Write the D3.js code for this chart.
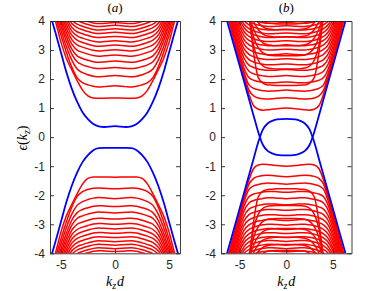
<!DOCTYPE html>
<html><head><meta charset="utf-8">
<script src="https://cdn.jsdelivr.net/npm/d3@7"></script>
<style>body{margin:0;background:#fff}svg{display:block}</style>
</head><body>
<script>
// ---------- data ----------
const kA = [-6,-5.5,-5,-4.5,-4,-3.5,-3,-2.5,-2,-1.5,-1,0,1,1.5,2,2.5,3,3.5,4,4.5,5,5.5,6];
const kB = [-7,-6.5,-6,-5.5,-5,-4.5,-4,-3.5,-3,-2.5,-2,-1.5,-1,0,1,1.5,2,2.5,3,3.5,4,4.5,5,5.5,6,6.5,7];
const yTicks = [-4,-3,-2,-1,0,1,2,3,4];
const xTicks = [-5,0,5];
const panelTitles = ["a","b"];

const blueA = [
 [4.25,3.6,2.93,2.25,1.68,1.22,0.86,0.62,0.45,0.37,0.35,0.38,0.35,0.37,0.45,0.62,0.86,1.22,1.68,2.25,2.93,3.6,4.25],
 [-4.25,-3.6,-2.93,-2.25,-1.68,-1.22,-0.86,-0.62,-0.45,-0.38,-0.37,-0.37,-0.37,-0.38,-0.45,-0.62,-0.86,-1.22,-1.68,-2.25,-2.93,-3.6,-4.25]
];
const redAUpper = [
 [4.7,4.0,3.28,2.72,2.32,1.95,1.62,1.42,1.35,1.34,1.34,1.35,1.34,1.34,1.35,1.42,1.62,1.95,2.32,2.72,3.28,4.0,4.7],
 [4.8,4.15,3.52,2.93,2.42,2.05,1.88,1.80,1.75,1.73,1.74,1.77,1.74,1.73,1.75,1.80,1.88,2.05,2.42,2.93,3.52,4.15,4.8],
 [5.0,4.33,3.70,3.13,2.66,2.35,2.22,2.15,2.10,2.08,2.09,2.12,2.09,2.08,2.10,2.15,2.22,2.35,2.66,3.13,3.70,4.33,5.0],
 [5.1,4.48,3.87,3.32,2.87,2.60,2.49,2.43,2.38,2.36,2.37,2.40,2.37,2.36,2.38,2.43,2.49,2.60,2.87,3.32,3.87,4.48,5.1],
 [5.2,4.6,4.01,3.47,3.04,2.80,2.71,2.65,2.60,2.58,2.59,2.62,2.59,2.58,2.60,2.65,2.71,2.80,3.04,3.47,4.01,4.6,5.2],
 [5.3,4.7,4.14,3.62,3.21,3.00,2.92,2.86,2.81,2.79,2.80,2.83,2.80,2.79,2.81,2.86,2.92,3.00,3.21,3.62,4.14,4.7,5.3],
 [5.4,4.8,4.26,3.76,3.37,3.18,3.10,3.04,2.99,2.97,2.98,3.01,2.98,2.97,2.99,3.04,3.10,3.18,3.37,3.76,4.26,4.8,5.4],
 [5.5,4.9,4.37,3.89,3.52,3.34,3.26,3.20,3.15,3.13,3.14,3.17,3.14,3.13,3.15,3.20,3.26,3.34,3.52,3.89,4.37,4.9,5.5],
 [5.6,5.0,4.48,4.01,3.66,3.49,3.41,3.35,3.30,3.28,3.29,3.32,3.29,3.28,3.30,3.35,3.41,3.49,3.66,4.01,4.48,5.0,5.6],
 [5.7,5.1,4.58,4.12,3.79,3.63,3.56,3.50,3.45,3.43,3.44,3.47,3.44,3.43,3.45,3.50,3.56,3.63,3.79,4.12,4.58,5.1,5.7],
 [5.8,5.2,4.68,4.23,3.92,3.77,3.70,3.64,3.59,3.57,3.58,3.61,3.58,3.57,3.59,3.64,3.70,3.77,3.92,4.23,4.68,5.2,5.8],
 [5.9,5.3,4.77,4.33,4.04,3.89,3.82,3.76,3.71,3.69,3.70,3.73,3.70,3.69,3.71,3.76,3.82,3.89,4.04,4.33,4.77,5.3,5.9],
 [6.0,5.4,4.86,4.43,4.15,4.01,3.94,3.88,3.83,3.81,3.82,3.85,3.82,3.81,3.83,3.88,3.94,4.01,4.15,4.43,4.86,5.4,6.0],
 [6.0,5.5,4.95,4.52,4.25,4.11,4.04,3.98,3.93,3.91,3.92,3.95,3.92,3.91,3.93,3.98,4.04,4.11,4.25,4.52,4.95,5.5,6.0]
];
const redALower = [
 [-4.7,-4.0,-3.28,-2.72,-2.32,-1.95,-1.62,-1.42,-1.37,-1.37,-1.37,-1.38,-1.37,-1.37,-1.37,-1.42,-1.62,-1.95,-2.32,-2.72,-3.28,-4.0,-4.7],
 [-4.8,-4.15,-3.52,-2.93,-2.42,-2.05,-1.88,-1.80,-1.76,-1.75,-1.76,-1.78,-1.76,-1.75,-1.76,-1.80,-1.88,-2.05,-2.42,-2.93,-3.52,-4.15,-4.8],
 [-5.0,-4.33,-3.70,-3.13,-2.66,-2.35,-2.22,-2.15,-2.10,-2.08,-2.09,-2.12,-2.09,-2.08,-2.10,-2.15,-2.22,-2.35,-2.66,-3.13,-3.70,-4.33,-5.0],
 [-5.1,-4.48,-3.87,-3.32,-2.87,-2.60,-2.49,-2.43,-2.38,-2.36,-2.37,-2.39,-2.37,-2.36,-2.38,-2.43,-2.49,-2.60,-2.87,-3.32,-3.87,-4.48,-5.1],
 [-5.2,-4.6,-4.01,-3.47,-3.04,-2.80,-2.71,-2.65,-2.60,-2.58,-2.59,-2.61,-2.59,-2.58,-2.60,-2.65,-2.71,-2.80,-3.04,-3.47,-4.01,-4.6,-5.2],
 [-5.3,-4.7,-4.14,-3.62,-3.21,-3.00,-2.92,-2.86,-2.81,-2.79,-2.80,-2.82,-2.80,-2.79,-2.81,-2.86,-2.92,-3.00,-3.21,-3.62,-4.14,-4.7,-5.3],
 [-5.4,-4.8,-4.26,-3.76,-3.37,-3.18,-3.10,-3.04,-2.99,-2.97,-2.98,-3.00,-2.98,-2.97,-2.99,-3.04,-3.10,-3.18,-3.37,-3.76,-4.26,-4.8,-5.4],
 [-5.5,-4.9,-4.37,-3.89,-3.52,-3.34,-3.26,-3.20,-3.15,-3.13,-3.14,-3.16,-3.14,-3.13,-3.15,-3.20,-3.26,-3.34,-3.52,-3.89,-4.37,-4.9,-5.5],
 [-5.6,-5.0,-4.48,-4.01,-3.66,-3.49,-3.41,-3.35,-3.30,-3.28,-3.29,-3.31,-3.29,-3.28,-3.30,-3.35,-3.41,-3.49,-3.66,-4.01,-4.48,-5.0,-5.6],
 [-5.7,-5.1,-4.58,-4.12,-3.79,-3.63,-3.56,-3.50,-3.45,-3.43,-3.44,-3.46,-3.44,-3.43,-3.45,-3.50,-3.56,-3.63,-3.79,-4.12,-4.58,-5.1,-5.7],
 [-5.8,-5.2,-4.68,-4.23,-3.92,-3.77,-3.70,-3.64,-3.59,-3.57,-3.58,-3.60,-3.58,-3.57,-3.59,-3.64,-3.70,-3.77,-3.92,-4.23,-4.68,-5.2,-5.8],
 [-5.9,-5.3,-4.77,-4.33,-4.04,-3.89,-3.82,-3.76,-3.71,-3.69,-3.70,-3.72,-3.70,-3.69,-3.71,-3.76,-3.82,-3.89,-4.04,-4.33,-4.77,-5.3,-5.9],
 [-6.0,-5.4,-4.86,-4.43,-4.15,-4.01,-3.94,-3.88,-3.83,-3.81,-3.82,-3.84,-3.82,-3.81,-3.83,-3.88,-3.94,-4.01,-4.15,-4.43,-4.86,-5.4,-6.0],
 [-6.0,-5.5,-4.95,-4.52,-4.25,-4.11,-4.04,-3.98,-3.93,-3.91,-3.92,-3.94,-3.92,-3.91,-3.93,-3.98,-4.04,-4.11,-4.25,-4.52,-4.95,-5.5,-6.0]
];

const blueB = [
 [-4.74,-4.17,-3.6,-3.03,-2.46,-1.89,-1.31,-0.74,-0.17,0.27,0.47,0.56,0.61,0.63,0.61,0.56,0.47,0.27,-0.17,-0.74,-1.31,-1.89,-2.46,-3.03,-3.6,-4.17,-4.74],
 [4.74,4.17,3.6,3.03,2.46,1.89,1.31,0.74,0.17,-0.27,-0.47,-0.56,-0.61,-0.63,-0.61,-0.56,-0.47,-0.27,0.17,0.74,1.31,1.89,2.46,3.03,3.6,4.17,4.74]
];
const redBUpperWide = [
 [5.0,4.4,3.8,3.2,2.6,2.02,1.48,1.08,0.96,0.93,0.94,0.96,0.98,1.00,0.98,0.96,0.94,0.93,0.96,1.08,1.48,2.02,2.6,3.2,3.8,4.4,5.0],
 [5.1,4.5,3.9,3.28,2.68,2.10,1.62,1.42,1.35,1.32,1.31,1.32,1.34,1.36,1.34,1.32,1.31,1.32,1.35,1.42,1.62,2.10,2.68,3.28,3.9,4.5,5.1],
 [5.2,4.6,4.0,3.36,2.76,2.20,1.80,1.68,1.63,1.60,1.58,1.59,1.60,1.62,1.60,1.59,1.58,1.60,1.63,1.68,1.80,2.20,2.76,3.36,4.0,4.6,5.2],
 [5.3,4.7,4.08,3.45,2.86,2.35,2.05,1.96,1.92,1.89,1.87,1.87,1.88,1.90,1.88,1.87,1.87,1.89,1.92,1.96,2.05,2.35,2.86,3.45,4.08,4.7,5.3],
 [5.4,4.8,4.15,3.55,2.98,2.52,2.27,2.18,2.14,2.11,2.09,2.09,2.10,2.12,2.10,2.09,2.09,2.11,2.14,2.18,2.27,2.52,2.98,3.55,4.15,4.8,5.4],
 [5.5,4.9,4.25,3.66,3.12,2.70,2.48,2.40,2.35,2.32,2.30,2.30,2.31,2.33,2.31,2.30,2.30,2.32,2.35,2.40,2.48,2.70,3.12,3.66,4.25,4.9,5.5],
 [5.6,5.0,4.35,3.78,3.27,2.87,2.67,2.59,2.54,2.51,2.49,2.49,2.50,2.52,2.50,2.49,2.49,2.51,2.54,2.59,2.67,2.87,3.27,3.78,4.35,5.0,5.6],
 [5.6,5.0,4.45,3.90,3.40,3.03,2.85,2.77,2.72,2.69,2.67,2.67,2.68,2.70,2.68,2.67,2.67,2.69,2.72,2.77,2.85,3.03,3.40,3.90,4.45,5.0,5.6],
 [5.7,5.1,4.55,4.02,3.54,3.19,3.02,2.94,2.89,2.86,2.84,2.84,2.85,2.87,2.85,2.84,2.84,2.86,2.89,2.94,3.02,3.19,3.54,4.02,4.55,5.1,5.7],
 [5.8,5.2,4.65,4.13,3.67,3.34,3.18,3.10,3.05,3.02,3.00,3.00,3.01,3.03,3.01,3.00,3.00,3.02,3.05,3.10,3.18,3.34,3.67,4.13,4.65,5.2,5.8],
 [5.9,5.3,4.75,4.24,3.80,3.49,3.33,3.25,3.20,3.17,3.15,3.15,3.16,3.18,3.16,3.15,3.15,3.17,3.20,3.25,3.33,3.49,3.80,4.24,4.75,5.3,5.9],
 [6.0,5.4,4.85,4.35,3.92,3.62,3.47,3.39,3.34,3.31,3.29,3.29,3.30,3.32,3.30,3.29,3.29,3.31,3.34,3.39,3.47,3.62,3.92,4.35,4.85,5.4,6.0],
 [6.0,5.5,4.95,4.45,4.05,3.76,3.61,3.53,3.48,3.45,3.43,3.43,3.44,3.46,3.44,3.43,3.43,3.45,3.48,3.53,3.61,3.76,4.05,4.45,4.95,5.5,6.0],
 [6.0,5.5,5.0,4.55,4.16,3.88,3.74,3.66,3.61,3.58,3.56,3.56,3.57,3.59,3.57,3.56,3.56,3.58,3.61,3.66,3.74,3.88,4.16,4.55,5.0,5.5,6.0],
 [6.1,5.6,5.1,4.65,4.27,4.00,3.87,3.79,3.74,3.71,3.69,3.69,3.70,3.72,3.70,3.69,3.69,3.71,3.74,3.79,3.87,4.00,4.27,4.65,5.1,5.6,6.1],
 [6.2,5.7,5.2,4.75,4.38,4.12,3.99,3.91,3.86,3.83,3.81,3.81,3.82,3.84,3.82,3.81,3.81,3.83,3.86,3.91,3.99,4.12,4.38,4.75,5.2,5.7,6.2],
 [6.3,5.8,5.3,4.85,4.48,4.23,4.10,4.02,3.97,3.94,3.92,3.92,3.93,3.95,3.93,3.92,3.92,3.94,3.97,4.02,4.10,4.23,4.48,4.85,5.3,5.8,6.3]
];
const redBUpperU = [
 [6,6,6,6,6,6,4.30,2.90,2.05,1.86,1.80,1.79,1.78,1.78,1.78,1.79,1.80,1.86,2.05,2.90,4.30,6,6,6,6,6,6],
 [6,6,6,6,6,6,4.20,3.15,2.65,2.45,2.38,2.36,2.35,2.35,2.35,2.36,2.38,2.45,2.65,3.15,4.20,6,6,6,6,6,6],
 [6,6,6,6,6,6,4.25,3.45,3.08,2.90,2.83,2.81,2.80,2.80,2.80,2.81,2.83,2.90,3.08,3.45,4.25,6,6,6,6,6,6],
 [6,6,6,6,6,6,4.35,3.72,3.41,3.25,3.18,3.16,3.15,3.15,3.15,3.16,3.18,3.25,3.41,3.72,4.35,6,6,6,6,6,6],
 [6,6,6,6,6,6,4.50,3.98,3.70,3.55,3.48,3.46,3.45,3.45,3.45,3.46,3.48,3.55,3.70,3.98,4.50,6,6,6,6,6,6],
 [6,6,6,6,6,6,4.70,4.20,3.94,3.80,3.73,3.71,3.70,3.70,3.70,3.71,3.73,3.80,3.94,4.20,4.70,6,6,6,6,6,6],
 [6,6,6,6,6,6,4.90,4.40,4.13,4.00,3.93,3.91,3.90,3.90,3.90,3.91,3.93,4.00,4.13,4.40,4.90,6,6,6,6,6,6]
];
const redBLowerWide = [
 [-5.0,-4.4,-3.8,-3.2,-2.6,-2.02,-1.48,-1.08,-0.96,-0.93,-0.94,-0.96,-0.98,-1.00,-0.98,-0.96,-0.94,-0.93,-0.96,-1.08,-1.48,-2.02,-2.6,-3.2,-3.8,-4.4,-5.0],
 [-5.1,-4.5,-3.9,-3.28,-2.68,-2.10,-1.62,-1.42,-1.35,-1.32,-1.31,-1.32,-1.34,-1.36,-1.34,-1.32,-1.31,-1.32,-1.35,-1.42,-1.62,-2.10,-2.68,-3.28,-3.9,-4.5,-5.1],
 [-5.2,-4.6,-4.0,-3.36,-2.76,-2.20,-1.80,-1.68,-1.63,-1.60,-1.58,-1.59,-1.60,-1.62,-1.60,-1.59,-1.58,-1.60,-1.63,-1.68,-1.80,-2.20,-2.76,-3.36,-4.0,-4.6,-5.2],
 [-5.3,-4.7,-4.08,-3.45,-2.86,-2.35,-2.05,-1.96,-1.92,-1.89,-1.87,-1.87,-1.88,-1.90,-1.88,-1.87,-1.87,-1.89,-1.92,-1.96,-2.05,-2.35,-2.86,-3.45,-4.08,-4.7,-5.3],
 [-5.4,-4.8,-4.15,-3.55,-2.98,-2.52,-2.27,-2.18,-2.14,-2.11,-2.09,-2.09,-2.10,-2.12,-2.10,-2.09,-2.09,-2.11,-2.14,-2.18,-2.27,-2.52,-2.98,-3.55,-4.15,-4.8,-5.4],
 [-5.5,-4.9,-4.25,-3.66,-3.12,-2.70,-2.48,-2.40,-2.35,-2.32,-2.30,-2.30,-2.31,-2.33,-2.31,-2.30,-2.30,-2.32,-2.35,-2.40,-2.48,-2.70,-3.12,-3.66,-4.25,-4.9,-5.5],
 [-5.6,-5.0,-4.35,-3.78,-3.27,-2.87,-2.67,-2.59,-2.54,-2.51,-2.49,-2.49,-2.50,-2.52,-2.50,-2.49,-2.49,-2.51,-2.54,-2.59,-2.67,-2.87,-3.27,-3.78,-4.35,-5.0,-5.6],
 [-5.6,-5.0,-4.45,-3.90,-3.40,-3.03,-2.85,-2.77,-2.72,-2.69,-2.67,-2.67,-2.68,-2.70,-2.68,-2.67,-2.67,-2.69,-2.72,-2.77,-2.85,-3.03,-3.40,-3.90,-4.45,-5.0,-5.6],
 [-5.7,-5.1,-4.55,-4.02,-3.54,-3.19,-3.02,-2.94,-2.89,-2.86,-2.84,-2.84,-2.85,-2.87,-2.85,-2.84,-2.84,-2.86,-2.89,-2.94,-3.02,-3.19,-3.54,-4.02,-4.55,-5.1,-5.7],
 [-5.8,-5.2,-4.65,-4.13,-3.67,-3.34,-3.18,-3.10,-3.05,-3.02,-3.00,-3.00,-3.01,-3.03,-3.01,-3.00,-3.00,-3.02,-3.05,-3.10,-3.18,-3.34,-3.67,-4.13,-4.65,-5.2,-5.8],
 [-5.9,-5.3,-4.75,-4.24,-3.80,-3.49,-3.33,-3.25,-3.20,-3.17,-3.15,-3.15,-3.16,-3.18,-3.16,-3.15,-3.15,-3.17,-3.20,-3.25,-3.33,-3.49,-3.80,-4.24,-4.75,-5.3,-5.9],
 [-6.0,-5.4,-4.85,-4.35,-3.92,-3.62,-3.47,-3.39,-3.34,-3.31,-3.29,-3.29,-3.30,-3.32,-3.30,-3.29,-3.29,-3.31,-3.34,-3.39,-3.47,-3.62,-3.92,-4.35,-4.85,-5.4,-6.0],
 [-6.0,-5.5,-4.95,-4.45,-4.05,-3.76,-3.61,-3.53,-3.48,-3.45,-3.43,-3.43,-3.44,-3.46,-3.44,-3.43,-3.43,-3.45,-3.48,-3.53,-3.61,-3.76,-4.05,-4.45,-4.95,-5.5,-6.0],
 [-6.0,-5.5,-5.0,-4.55,-4.16,-3.88,-3.74,-3.66,-3.61,-3.58,-3.56,-3.56,-3.57,-3.59,-3.57,-3.56,-3.56,-3.58,-3.61,-3.66,-3.74,-3.88,-4.16,-4.55,-5.0,-5.5,-6.0],
 [-6.1,-5.6,-5.1,-4.65,-4.27,-4.00,-3.87,-3.79,-3.74,-3.71,-3.69,-3.69,-3.70,-3.72,-3.70,-3.69,-3.69,-3.71,-3.74,-3.79,-3.87,-4.00,-4.27,-4.65,-5.1,-5.6,-6.1],
 [-6.2,-5.7,-5.2,-4.75,-4.38,-4.12,-3.99,-3.91,-3.86,-3.83,-3.81,-3.81,-3.82,-3.84,-3.82,-3.81,-3.81,-3.83,-3.86,-3.91,-3.99,-4.12,-4.38,-4.75,-5.2,-5.7,-6.2],
 [-6.3,-5.8,-5.3,-4.85,-4.48,-4.23,-4.10,-4.02,-3.97,-3.94,-3.92,-3.92,-3.93,-3.95,-3.93,-3.92,-3.92,-3.94,-3.97,-4.02,-4.10,-4.23,-4.48,-4.85,-5.3,-5.8,-6.3]
];
const redBLowerU = [
 [-6,-6,-6,-6,-6,-6,-4.30,-2.90,-2.05,-1.86,-1.80,-1.79,-1.78,-1.78,-1.78,-1.79,-1.80,-1.86,-2.05,-2.90,-4.30,-6,-6,-6,-6,-6,-6],
 [-6,-6,-6,-6,-6,-6,-4.20,-3.15,-2.65,-2.45,-2.38,-2.36,-2.35,-2.35,-2.35,-2.36,-2.38,-2.45,-2.65,-3.15,-4.20,-6,-6,-6,-6,-6,-6],
 [-6,-6,-6,-6,-6,-6,-4.25,-3.45,-3.08,-2.90,-2.83,-2.81,-2.80,-2.80,-2.80,-2.81,-2.83,-2.90,-3.08,-3.45,-4.25,-6,-6,-6,-6,-6,-6],
 [-6,-6,-6,-6,-6,-6,-4.35,-3.72,-3.41,-3.25,-3.18,-3.16,-3.15,-3.15,-3.15,-3.16,-3.18,-3.25,-3.41,-3.72,-4.35,-6,-6,-6,-6,-6,-6],
 [-6,-6,-6,-6,-6,-6,-4.50,-3.98,-3.70,-3.55,-3.48,-3.46,-3.45,-3.45,-3.45,-3.46,-3.48,-3.55,-3.70,-3.98,-4.50,-6,-6,-6,-6,-6,-6],
 [-6,-6,-6,-6,-6,-6,-4.70,-4.20,-3.94,-3.80,-3.73,-3.71,-3.70,-3.70,-3.70,-3.71,-3.73,-3.80,-3.94,-4.20,-4.70,-6,-6,-6,-6,-6,-6],
 [-6,-6,-6,-6,-6,-6,-4.90,-4.40,-4.13,-4.00,-3.93,-3.91,-3.90,-3.90,-3.90,-3.91,-3.93,-4.00,-4.13,-4.40,-4.90,-6,-6,-6,-6,-6,-6]
];

// ---------- drawing ----------
const W = 388, H = 291;
const AX = "#262626";
const svg = d3.select("body").append("svg").attr("width", W).attr("height", H)
  .style("font-family", "'Liberation Sans', Arial, sans-serif");

const panels = [
  {id: 0, x0: 50, x1: 180, dom: [-6, 6], k: kA, red: redAUpper.concat(redALower), blue: blueA},
  {id: 1, x0: 221, x1: 351.5, dom: [-7, 7], k: kB, red: redBUpperWide.concat(redBUpperU, redBLowerWide, redBLowerU), blue: blueB}
];
const yTop = 21, yBot = 253.3;
const y = d3.scaleLinear().domain([-4, 4]).range([yBot, yTop]);

panels.forEach(p => {
  const x = d3.scaleLinear().domain(p.dom).range([p.x0, p.x1]);
  const g = svg.append("g");
  const cid = "clip" + p.id;
  svg.append("defs").append("clipPath").attr("id", cid)
    .append("rect").attr("x", p.x0).attr("y", yTop).attr("width", p.x1 - p.x0).attr("height", yBot - yTop);
  const line = d3.line().x((d, i) => x(p.k[i])).y(d => y(d)).curve(d3.curveMonotoneX);
  const plot = g.append("g").attr("clip-path", `url(#${cid})`);
  plot.selectAll("path.red").data(p.red).enter().append("path")
    .attr("class", "red").attr("d", line).attr("fill", "none")
    .attr("stroke", "#ff0000").attr("stroke-width", 1.5);
  plot.selectAll("path.blue").data(p.blue).enter().append("path")
    .attr("class", "blue").attr("d", line).attr("fill", "none")
    .attr("stroke", "#0000ff").attr("stroke-width", 1.8);

  const styleAxis = sel => {
    sel.selectAll("path.domain").attr("stroke", AX).attr("stroke-width", 0.9);
    sel.selectAll(".tick line").attr("stroke", AX).attr("stroke-width", 0.9);
    sel.selectAll("text").attr("fill", AX).style("font-size", "12px")
      .style("font-family", "'Liberation Sans', Arial, sans-serif");
  };
  g.append("g").attr("transform", `translate(${p.x0},0)`)
    .call(d3.axisLeft(y).tickValues(yTicks).tickSizeInner(-4).tickSizeOuter(0).tickPadding(5).tickFormat(d => d < 0 ? "-" + Math.abs(d) : d))
    .call(styleAxis);
  g.append("g").attr("transform", `translate(${p.x1},0)`)
    .call(d3.axisRight(y).tickValues(yTicks).tickSizeInner(-4).tickSizeOuter(0).tickFormat(""))
    .call(styleAxis);
  g.append("g").attr("transform", `translate(0,${yBot})`)
    .call(d3.axisBottom(x).tickValues(xTicks).tickSizeInner(-4).tickSizeOuter(0).tickPadding(7.5).tickFormat(d => d < 0 ? "-" + Math.abs(d) : d))
    .call(styleAxis);
  g.append("g").attr("transform", `translate(0,${yTop})`)
    .call(d3.axisTop(x).tickValues(xTicks).tickSizeInner(-4).tickSizeOuter(0).tickFormat(""))
    .call(styleAxis);

  // title
  const cx = x(0);
  const t = svg.append("text").attr("x", cx).attr("y", 12).attr("text-anchor", "middle")
    .style("font-family", "'Liberation Serif', 'DejaVu Serif', serif").style("font-size", "13px").attr("fill", "#000");
  t.append("tspan").text("(");
  t.append("tspan").style("font-style", "italic").text(panelTitles[p.id]);
  t.append("tspan").text(")");

  // x label
  const xl = svg.append("text").attr("x", cx).attr("y", 285.5).attr("text-anchor", "middle")
    .style("font-family", "'Liberation Serif', 'DejaVu Serif', serif").style("font-size", "14px")
    .style("font-style", "italic").attr("fill", "#000");
  xl.append("tspan").text("k");
  xl.append("tspan").attr("dy", 3).style("font-size", "10px").text("z");
  xl.append("tspan").attr("dy", -3).attr("dx", 1).text("d");
});

// y label
const yl = svg.append("text").attr("transform", "translate(27,138) rotate(-90)").attr("text-anchor", "middle")
  .style("font-family", "'Liberation Serif', 'DejaVu Serif', serif").style("font-size", "14px").attr("fill", "#000");
yl.append("tspan").style("font-style", "italic").text("ϵ");
yl.append("tspan").text("(");
yl.append("tspan").style("font-style", "italic").text("k");
yl.append("tspan").attr("dy", 3).style("font-size", "10px").style("font-style", "italic").text("z");
yl.append("tspan").attr("dy", -3).text(")");
</script>
</body></html>
